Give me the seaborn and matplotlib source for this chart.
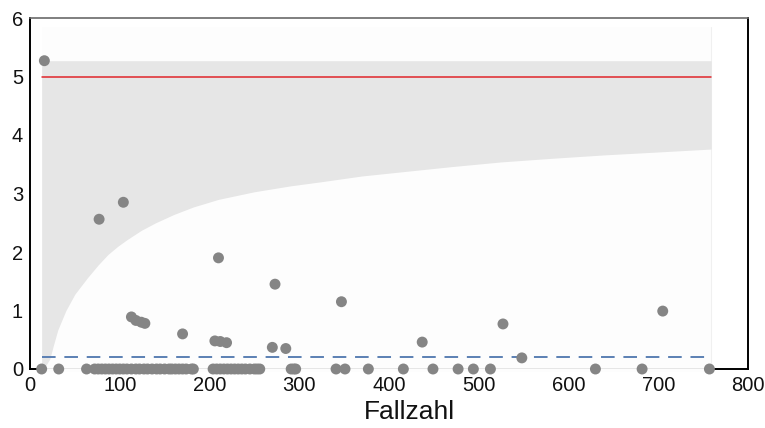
import matplotlib
matplotlib.use("Agg")
import matplotlib.pyplot as plt
import numpy as np
import pandas as pd
import seaborn as sns

# Case counts (Fallzahl) and observed rates per hospital
fallzahl = [16, 77, 104, 210, 273, 347,
            113, 118, 124, 128, 170,
            206, 212, 219, 270, 285,
            437, 527, 548, 705,
            13, 32, 63, 72, 76, 80, 84, 88, 92, 96, 100, 104, 108, 113, 118,
            122, 127, 131, 136, 141, 145, 150, 155, 158, 162, 166, 170, 174,
            180, 182, 204, 208, 212, 216, 220, 224, 228, 232, 236, 240, 245,
            250, 253, 256, 291, 294, 296, 341, 351, 377, 416, 449, 477, 494,
            513, 630, 682, 757]
rate = [5.27, 2.56, 2.85, 1.90, 1.45, 1.15,
        0.89, 0.83, 0.80, 0.78, 0.60,
        0.48, 0.47, 0.45, 0.37, 0.35,
        0.46, 0.77, 0.19, 0.99] + [0.0] * 58

# Lower edge of the tolerance band, upper edge is flat
band_x = [13, 18, 22, 26, 31, 40, 50, 64, 76, 87, 98, 108, 124, 140, 160,
          182, 210, 250, 290, 324, 370, 420, 470, 525, 580, 640, 700, 759]
band_low = [0.0, 0.07, 0.17, 0.4, 0.67, 1.0, 1.28, 1.56, 1.78, 1.96, 2.1,
            2.21, 2.37, 2.5, 2.64, 2.77, 2.9, 3.03, 3.13, 3.2, 3.3, 3.38,
            3.46, 3.54, 3.6, 3.66, 3.71, 3.76]
band_high = 5.27

ref_value = 5.0      # reference line
median_value = 0.2   # dashed line

x_ticks = [0, 100, 200, 300, 400, 500, 600, 700, 800]
y_ticks = [0, 1, 2, 3, 4, 5, 6]

sns.set_theme(style="white")
plt.rcParams["font.family"] = ["Liberation Sans", "DejaVu Sans"]

fig = plt.figure(figsize=(7.65, 4.28), dpi=100)
ax = fig.add_axes([30 / 765, 1 - 369 / 428, 718 / 765, 351 / 428])

xmin, xmax = band_x[0], band_x[-1]

# inner panel covering the bottom spine between first and last case count
panel = plt.Rectangle((xmin, -0.05), xmax - xmin, 5.9, facecolor="#fdfdfd",
                      edgecolor="none", zorder=2.6, clip_on=False)
ax.add_patch(panel)
ax.plot([xmax, xmax], [0, 5.85], color="#f0f0f0", lw=0.8, zorder=2.65)

ax.fill_between(band_x, band_low, band_high, color="#e6e6e6", lw=0, zorder=2.7)
ax.plot([xmin, xmax], [0, 0], color="#e2e2e2", lw=1.2, zorder=2.8)

lines = pd.DataFrame({"x": [xmin, xmax], "ref": [ref_value] * 2,
                      "med": [median_value] * 2})
sns.lineplot(data=lines, x="x", y="ref", ax=ax, color="#e0262b", lw=1.1,
             zorder=2.9)
sns.lineplot(data=lines, x="x", y="med", ax=ax, color="#5b80b4", lw=1.4,
             zorder=2.9)
ax.lines[-1].set_dashes((7, 4.5))

df = pd.DataFrame({"Fallzahl": fallzahl, "Rate": rate})
sns.scatterplot(data=df, x="Fallzahl", y="Rate", ax=ax, color="#858585",
                s=62, edgecolor="none", zorder=3.5, clip_on=False)

ax.set_xlim(0, 800)
ax.set_ylim(0, 6)
ax.set_xticks(x_ticks)
ax.set_yticks(y_ticks)
ax.tick_params(axis="both", length=0, labelsize=14.5, colors="#111111", pad=5)
ax.set_xlabel("Fallzahl", fontsize=19, color="#111111")
ax.xaxis.set_label_coords(0.529, -0.087)
ax.set_ylabel("")

for side in ["left", "right", "bottom"]:
    ax.spines[side].set_color("black")
    ax.spines[side].set_linewidth(1.4)
ax.spines["top"].set_color("#6a6a6a")
ax.spines["top"].set_linewidth(1.2)

fig.savefig("out.png", dpi=100)
